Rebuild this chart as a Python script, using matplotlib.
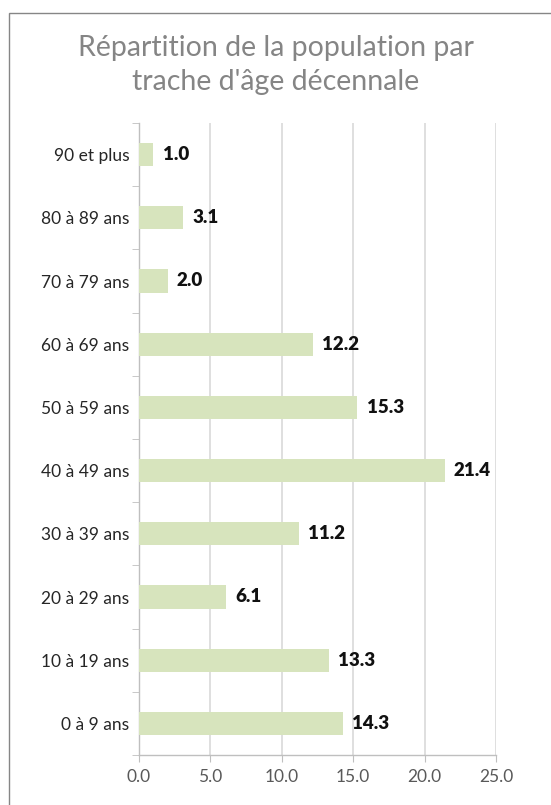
import matplotlib.pyplot as plt
import matplotlib.patches as patches
from matplotlib.ticker import MultipleLocator, FixedLocator

# Age brackets from bottom to top
categories = ['0 à 9 ans', '10 à 19 ans', '20 à 29 ans', '30 à 39 ans', '40 à 49 ans',
              '50 à 59 ans', '60 à 69 ans', '70 à 79 ans', '80 à 89 ans', '90 et plus']
values = [14.3, 13.3, 6.1, 11.2, 21.4, 15.3, 12.2, 2.0, 3.1, 1.0]
title = "Répartition de la population par\ntrache d'âge décennale"

plt.rcParams['font.family'] = ['Lato', 'DejaVu Sans']

fig = plt.figure(figsize=(5.51, 8.05), dpi=100)
fig.patch.set_facecolor('white')

# Chart area border (extends past the right and bottom edges)
frame = patches.Rectangle((9 / 551, -0.1), 1.0, 1 - 13 / 805 + 0.1, transform=fig.transFigure,
                          fill=False, edgecolor='#868686', linewidth=1.0)
fig.patches.append(frame)

ax = fig.add_axes([139 / 551, 1 - 755 / 805, (496 - 139) / 551, (755 - 123) / 805])

y = list(range(len(categories)))
ax.barh(y, values, height=0.37, color='#d7e4bd', zorder=3)

for yi, v in zip(y, values):
    ax.text(v + 0.65, yi, f'{v:.1f}', va='center', ha='left', fontsize=13.5,
            fontweight='heavy', color='#111111', zorder=4)

ax.set_xlim(0, 25)
ax.set_ylim(-0.5, len(categories) - 0.5)
ax.xaxis.set_major_locator(MultipleLocator(5))
ax.set_xticklabels([f'{t:.1f}' for t in ax.get_xticks()])
ax.set_yticks(y)
ax.set_yticklabels(categories)
ax.yaxis.set_minor_locator(FixedLocator([i - 0.5 for i in range(len(categories) + 1)]))

ax.grid(axis='x', color='#d9d9d9', linewidth=1.2, zorder=0)
ax.set_axisbelow(True)

for side in ['top', 'right']:
    ax.spines[side].set_visible(False)
for side in ['left', 'bottom']:
    ax.spines[side].set_color('#bfbfbf')
    ax.spines[side].set_linewidth(1.0)

ax.tick_params(axis='y', which='major', length=0, pad=7, labelsize=12.5, labelcolor='#262626')
ax.tick_params(axis='y', which='minor', length=5, color='#bfbfbf', direction='out')
ax.tick_params(axis='x', length=5, color='#bfbfbf', direction='out', labelsize=12.5,
               labelcolor='#595959', pad=5)

fig.text(0.5, 1 - 65 / 805, title, ha='center', va='center', fontsize=20.5,
         fontweight='normal', color='#858585', linespacing=1.4)

fig.savefig('out.png', dpi=100)
